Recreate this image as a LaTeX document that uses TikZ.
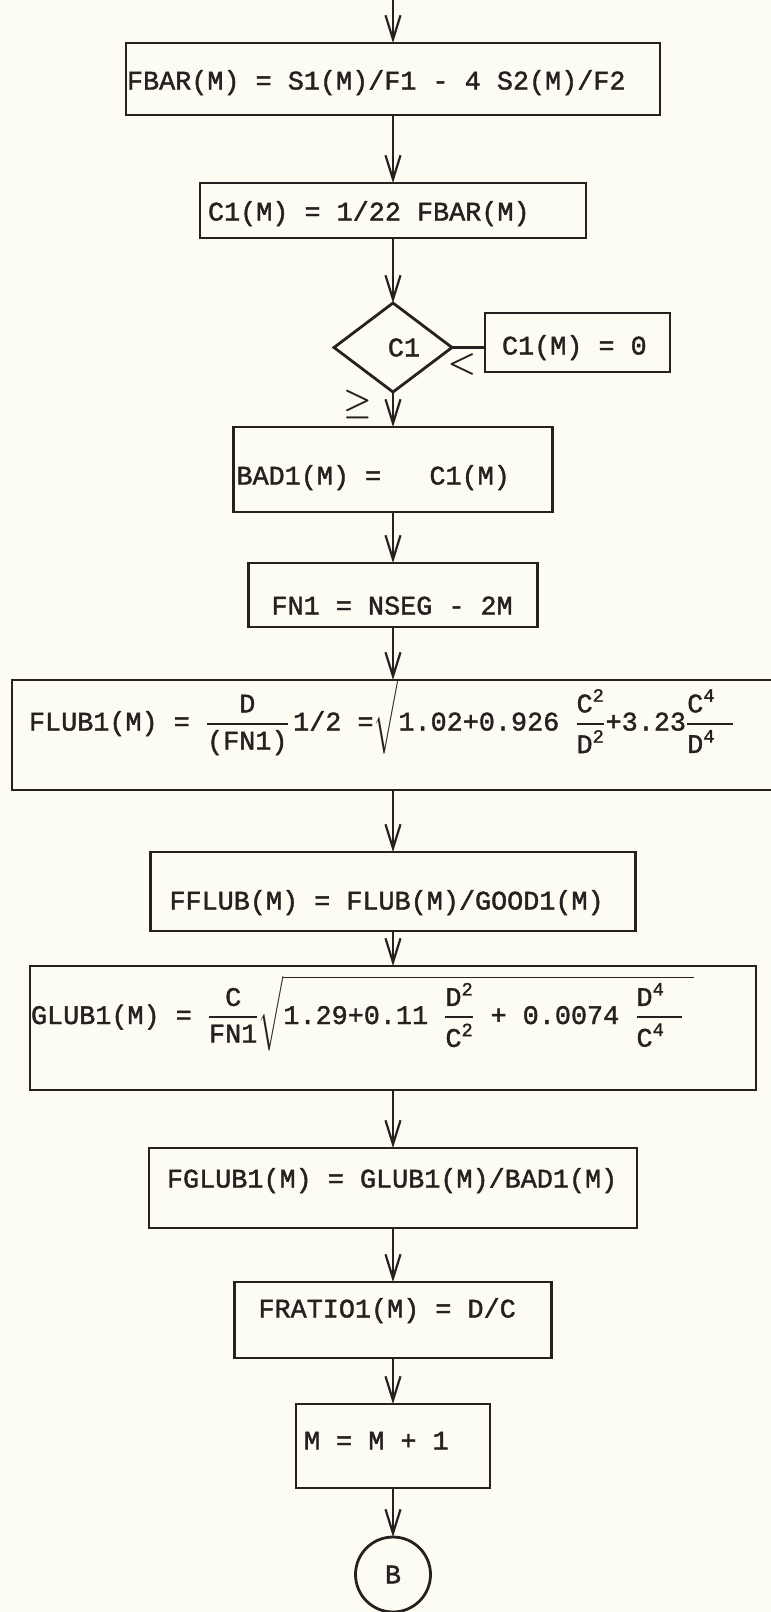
\RequirePackage{fix-cm}
\documentclass[tikz,border=0pt]{standalone}
\usepackage{amsmath}
\usepackage{fontspec}
\setmonofont{Liberation Mono}[FakeBold=1.5]
\usetikzlibrary{arrows.meta,positioning,shapes.geometric}
\definecolor{fcInk}{HTML}{262020}
\definecolor{fcPaper}{HTML}{FCFCF3}
\newcommand{\typfrac}[2]{\genfrac{}{}{1.8pt}{0}{#1}{#2}}
% typewriter setting: every space as wide as a letter
\newcommand{\typfont}{\ttfamily\fontsize{26.8}{32}\selectfont}
\newcommand{\typspace}{\spaceskip=0.6em\xspaceskip=0.6em\fontdimen2\font=0.6em\relax}

\begin{document}
\begin{tikzpicture}[
  x=1pt, y=1pt,
  font=\typfont,
  proc/.style={draw=fcInk, line width=2.8pt, outer sep=0pt, inner ysep=0pt, inner xsep=#1, align=left, text=fcInk, execute at begin node=\typspace},
  proc/.default=8pt,
  decision/.style={diamond, draw=fcInk, line width=2.8pt, outer sep=0pt, minimum width=118pt, minimum height=89pt, inner sep=0pt, text=fcInk},
  conn/.style={circle, draw=fcInk, line width=2.8pt, outer sep=0pt, minimum size=75pt, inner sep=0pt, text=fcInk},
  arr/.style={-{Straight Barb[length=24pt,width=15pt]}, line width=2.2pt, draw=fcInk},
  link/.style={line width=2.2pt, draw=fcInk},
  sym/.style={text=fcInk, inner sep=0pt, font=\fontsize{32}{32}\selectfont\boldmath}
]
  \path[use as bounding box, fill=fcPaper] (0,0) rectangle (771,-1612);

  \coordinate (start) at (393,0);
  \node[proc=1pt, text width=532pt, text height=46.5pt, text depth=25.5pt] (fbar) at (393,-79) {FBAR(M) = S1(M)/F1 - 4 S2(M)/F2};
  \node[proc=8pt, text width=370pt, text height=37.5pt, text depth=17.5pt, below=68pt of fbar] (cone) {C1(M) = 1/22 FBAR(M)};
  \node[decision, below=65pt of cone] (dec) {\hspace*{22pt}C1};
  \node[proc=17pt, text width=151pt, text height=41.5pt, text depth=17.5pt, right=33pt of dec, yshift=5pt] (zero) {C1(M) = 0};
  \node[proc=3pt, text width=313pt, text height=57.5pt, text depth=27.5pt, below=35pt of dec] (bad) {BAD1(M) =\ \ \ C1(M)};
  \node[proc=23pt, text width=243pt, text height=51.5pt, text depth=12.5pt, below=51pt of bad] (fn) {FN1 = NSEG - 2M};
  \node[proc=17pt, text width=728pt, text height=50.5pt, text depth=59.5pt, below=53pt of fn] (flub) {FLUB1(M) = $\typfrac{\text{D}}{\text{(FN1)}}$\,1/2 =$\sqrt{\smash[b]{\text{1.02+0.926 }\typfrac{\text{C}^{\text{2}}}{\text{D}^{\text{2}}}\text{+3.23}\typfrac{\text{C}^{\text{4}}\hspace{18pt}}{\text{D}^{\text{4}}\hspace{18pt}}}\vrule width 0pt depth 17pt height 0pt}$};
  \node[proc=19pt, text width=447pt, text height=57.5pt, text depth=21.5pt, below=62pt of flub] (fflub) {FFLUB(M) = FLUB(M)/GOOD1(M)};
  \node[proc=1pt, text width=724pt, text height=58pt, text depth=66pt, below=35pt of fflub] (glub) {GLUB1(M) = $\typfrac{\text{C}}{\text{FN1}}\sqrt{\text{1.29+0.11 }\typfrac{\text{D}^{\text{2}}}{\text{C}^{\text{2}}}\text{ + 0.0074 }\typfrac{\text{D}^{\text{4}}\hspace{18pt}}{\text{C}^{\text{4}}\hspace{18pt}}\hspace{10pt}}$};
  \node[proc=18pt, text width=452pt, text height=39.5pt, text depth=40.5pt, below=58pt of glub] (fglub) {FGLUB1(M) = GLUB1(M)/BAD1(M)};
  \node[proc=24pt, text width=269pt, text height=35.5pt, text depth=40.5pt, below=54pt of fglub] (fratio) {FRATIO1(M) = D/C};
  \node[proc=8pt, text width=178pt, text height=45.5pt, text depth=38.5pt, below=46pt of fratio] (incr) {M = M + 1};
  \node[conn, below=49pt of incr] (exitB) {B};

  \node[sym] (lt) at ([xshift=10pt,yshift=-17pt]dec.east) {$<$};
  \node[sym] (ge) at ([xshift=-35pt,yshift=-12pt]dec.south) {$\geq$};

  \draw[arr] (start) -- (fbar);
  \draw[arr] (fbar) -- (cone);
  \draw[arr] (cone) -- (dec);
  \draw[link] (dec.east) -- (zero.west |- dec.east);
  \draw[arr] (dec) -- (bad);
  \draw[arr] (bad) -- (fn);
  \draw[arr] (fn) -- (flub);
  \draw[arr] (flub) -- (fflub);
  \draw[arr] (fflub) -- (glub);
  \draw[arr] (glub) -- (fglub);
  \draw[arr] (fglub) -- (fratio);
  \draw[arr] (fratio) -- (incr);
  \draw[arr] (incr) -- (exitB);
\end{tikzpicture}
\end{document}
